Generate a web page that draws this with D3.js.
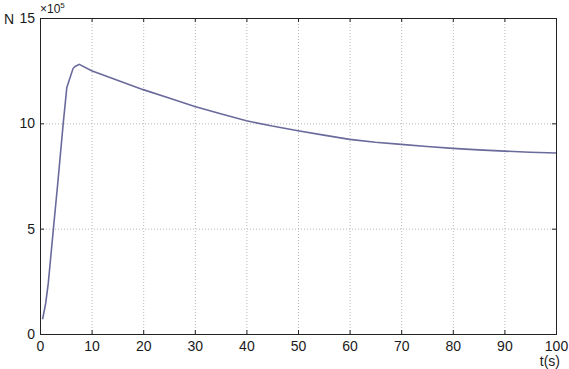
<!DOCTYPE html>
<html><head><meta charset="utf-8">
<script src="https://cdn.jsdelivr.net/npm/d3@7"></script>
<style>body{margin:0;background:#fff}svg{display:block}text{font-family:"Liberation Sans",Arial,sans-serif;fill:#1a1a1a}</style>
</head><body><svg id="c" width="569" height="369"></svg>
<script>
const tValues = [0.5, 1.1, 1.6, 2.6, 3.5, 4.5, 5.2, 6.4, 6.8, 7.6, 10, 15, 20, 25, 30, 35, 40, 45, 50, 55, 60, 65, 70, 75, 80, 85, 90, 95, 100];
const nValues = [0.7, 1.45, 2.4, 5.0, 7.3, 10.0, 11.7, 12.6, 12.7, 12.8, 12.5, 12.05, 11.6, 11.2, 10.8, 10.45, 10.12, 9.87, 9.65, 9.44, 9.24, 9.1, 9.0, 8.9, 8.81, 8.74, 8.68, 8.63, 8.59];
const xTicks = [0, 10, 20, 30, 40, 50, 60, 70, 80, 90, 100];
const yTicks = [0, 5, 10, 15];

const svg = d3.select("#c");
const L = 40, R = 556, T = 18, B = 334;
const x = d3.scaleLinear().domain([0, 100]).range([L, R]);
const y = d3.scaleLinear().domain([0, 15]).range([B, T]);

// grid
const g = svg.append("g");
g.selectAll(".gx").data(xTicks.slice(1, -1)).join("line")
  .attr("x1", d => x(d) + 0.5).attr("x2", d => x(d) + 0.5).attr("y1", T).attr("y2", B)
  .attr("stroke", "#b8b8b8").attr("stroke-width", 1).attr("stroke-dasharray", "1,2");
g.selectAll(".gy").data(yTicks.slice(1, -1)).join("line")
  .attr("y1", d => y(d) + 0.5).attr("y2", d => y(d) + 0.5).attr("x1", L).attr("x2", R)
  .attr("stroke", "#b8b8b8").attr("stroke-width", 1).attr("stroke-dasharray", "1,2");

// axes
svg.append("g").attr("transform", `translate(0,${B})`)
  .call(d3.axisBottom(x).tickValues(xTicks).tickSize(-4).tickPadding(7).tickFormat(d3.format("d")));
svg.append("g").attr("transform", `translate(${L},0)`)
  .call(d3.axisLeft(y).tickValues(yTicks).tickSize(-4).tickPadding(5).tickFormat(d3.format("d")));
svg.append("g").attr("transform", `translate(0,${T})`)
  .call(d3.axisTop(x).tickValues(xTicks).tickSize(-4).tickFormat(""));
svg.append("g").attr("transform", `translate(${R},0)`)
  .call(d3.axisRight(y).tickValues(yTicks).tickSize(-4).tickFormat(""));
svg.selectAll(".domain").attr("stroke", "#222");
svg.selectAll(".tick line").attr("stroke", "#222");
svg.selectAll(".tick text").attr("font-size", 14).attr("fill", "#1a1a1a")
  .attr("font-family", "Liberation Sans, Arial, sans-serif");
svg.append("rect").attr("x", L + 0.5).attr("y", T + 0.5).attr("width", R - L).attr("height", B - T)
  .attr("fill", "none").attr("stroke", "#222");

// line
svg.append("path").datum(tValues.map((t, i) => [t, nValues[i]]))
  .attr("fill", "none").attr("stroke", "#6a6a9c").attr("stroke-width", 1.6)
  .attr("d", d3.line().x(d => x(d[0])).y(d => y(d[1])));

// labels
svg.append("text").attr("x", 4).attr("y", 24).attr("font-size", 14).text("N");
const ex = svg.append("text").attr("x", 40).attr("y", 13).attr("font-size", 12);
ex.append("tspan").text("×10");
ex.append("tspan").attr("font-size", 8).attr("dy", -5).text("5");
svg.append("text").attr("x", 560).attr("y", 366).attr("text-anchor", "end").attr("font-size", 14).text("t(s)");
</script></body></html>
